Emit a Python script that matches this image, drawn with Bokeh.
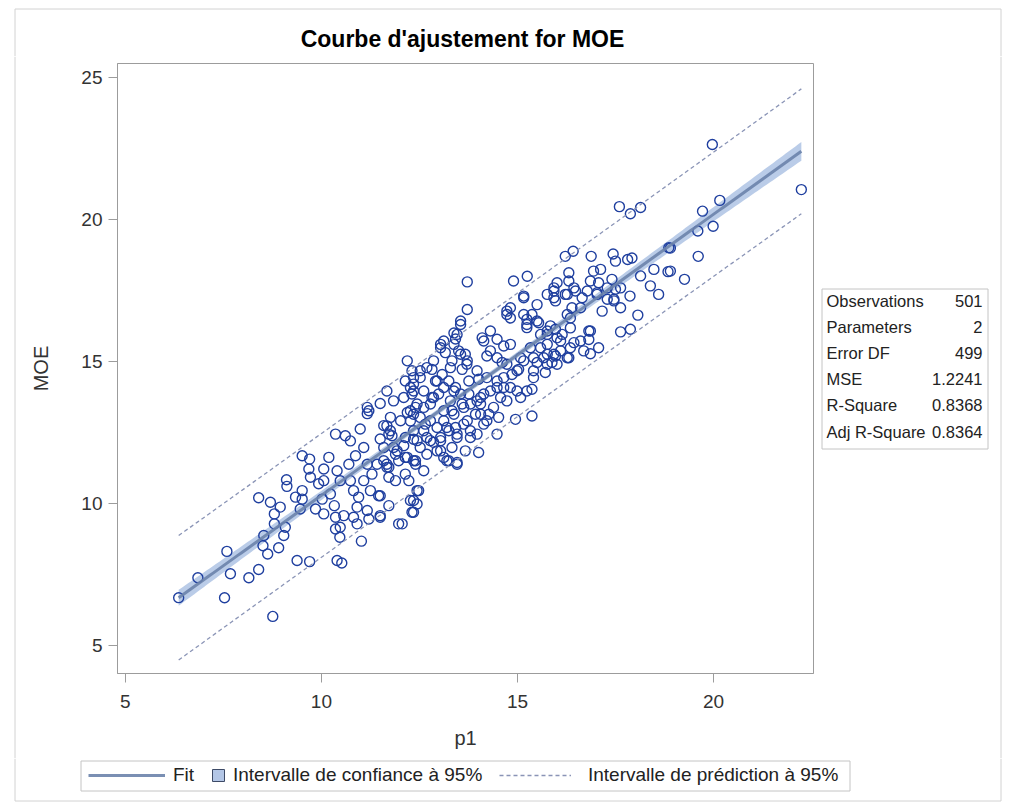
import numpy as np
from bokeh.plotting import figure
from bokeh.models import Range1d, FixedTicker, Legend, LegendItem
from bokeh.layouts import column, row
from bokeh.core.properties import value
from bokeh.embed import file_html
from bokeh.resources import INLINE

# ---- data (p1, MOE) ----
p1 = [
    6.36, 6.85, 7.59, 7.68, 7.53, 8.15, 8.40, 8.76, 8.53, 8.51, 8.63, 8.91, 9.04, 9.08, 8.80, 8.80,
    8.95, 8.70, 8.40, 9.11, 9.12, 9.38, 9.70, 10.40, 10.52, 9.51, 9.70, 9.68, 9.72, 9.51, 9.34, 9.51,
    9.46, 9.85, 10.06, 10.02, 10.06, 9.93, 10.06, 10.36, 10.48, 10.47, 10.36, 10.57, 10.33, 10.23,
    10.36, 10.61, 10.19, 10.40, 10.70, 10.48, 10.74, 10.82, 10.91, 10.82, 10.91, 11.02, 11.17, 11.21,
    11.50, 11.72, 11.17, 11.50, 11.17, 10.99, 10.74, 11.08, 10.87, 11.17, 11.42, 11.59, 11.72, 11.29,
    11.08, 11.25, 11.46, 10.95, 11.76, 11.84, 11.76, 11.84, 11.50, 11.59, 11.89, 11.97,
    12.06, 12.31, 12.35, 12.44, 12.23, 12.40, 12.19, 12.10, 12.35, 12.27, 12.19, 12.40, 12.31, 12.10,
    11.67, 11.80, 11.21, 12.35, 11.93, 11.67, 11.72, 11.50, 11.50,
    13.72, 13.55, 13.38, 13.42, 13.04, 13.16, 13.50, 13.67, 13.72, 13.59, 13.29, 12.86, 12.82, 12.52,
    12.19, 12.35, 12.27, 12.61, 12.95, 13.12, 13.38, 13.76, 14.01, 14.22, 14.10, 14.31, 14.48, 14.65,
    14.82, 14.73, 14.82, 15.16, 15.24, 15.37, 15.24, 15.54, 15.59, 15.93, 15.97, 15.76, 15.97, 15.67,
    15.50, 15.41, 15.08, 15.03, 14.86, 14.61, 14.65, 14.82, 15.08, 15.37, 14.57, 14.48, 14.31, 14.14,
    14.06, 14.27, 14.14, 14.48, 14.95, 15.37, 13.97, 14.01, 13.67, 13.80, 13.46, 13.42, 13.72, 13.93,
    13.12, 13.25, 13.04, 13.12, 13.46, 13.25, 12.95, 12.86, 12.61, 12.40, 12.14, 12.48, 12.27, 12.44,
    12.35, 12.52, 12.27, 12.44, 12.78, 12.86, 12.65, 12.35, 12.14, 12.69, 12.52, 13.59, 13.76, 13.33,
    13.97,
    17.60, 17.88, 18.14, 16.22, 16.42, 16.88, 17.44, 17.50, 17.81, 17.92, 18.86, 18.48, 18.84, 19.26,
    18.39, 18.60, 18.14, 17.87, 18.07, 17.63, 17.88, 17.63, 17.46, 17.50, 17.41, 17.12, 16.94, 16.86,
    17.07, 17.03, 17.16, 17.29, 16.65, 16.48, 16.31, 16.31, 16.01, 15.93, 16.22, 15.97, 16.39, 16.35,
    16.35, 16.82, 16.82, 17.07, 16.86, 16.44, 16.31, 16.10, 16.01, 15.84, 15.76, 15.76, 15.88, 15.71,
    16.14, 15.25, 13.72,
    22.24, 20.16, 19.72, 19.60, 19.99, 19.61, 18.90, 18.90, 19.97,
    11.67, 12.02, 11.72, 11.59, 11.89, 11.67, 11.97, 12.35, 12.61, 12.82, 12.99, 12.91, 12.69, 12.52,
    12.35, 12.14, 12.31, 13.08, 13.25, 13.42, 13.55, 13.29, 13.12, 13.38, 13.63, 12.78, 12.95, 12.61,
    12.44, 12.78, 13.04, 13.20, 13.46, 13.63, 13.80, 13.33, 13.04, 12.69, 12.35, 13.20, 13.46, 12.14,
    14.22, 14.06, 13.80, 14.06, 14.48, 14.22, 13.97, 13.71, 13.55, 13.33, 13.38, 13.46, 13.55, 13.04,
    13.12, 14.14, 14.31, 14.48, 14.73, 14.99, 14.65, 14.99, 14.73, 14.39, 14.52, 15.24, 15.41, 15.16,
    15.41, 15.59, 15.33, 15.93, 15.76, 16.01, 16.27, 16.35, 16.10, 16.61, 16.86, 16.69, 15.76, 15.50,
    15.24, 15.16, 15.50, 15.76, 15.93, 16.27, 16.44, 16.78, 17.03, 17.29, 17.46, 17.63, 16.61, 16.27,
    15.16, 14.82, 14.73, 14.90,
]
moe = [
    6.68, 7.38, 8.31, 7.52, 6.68, 7.38, 7.67, 6.02, 8.87, 8.51, 8.22, 8.44, 8.87, 9.16, 9.28, 9.63,
    9.87, 10.04, 10.20, 10.83, 10.60, 7.99, 7.95, 7.99, 7.90, 11.68, 11.56, 11.21, 10.92, 10.45, 10.22, 10.15,
    9.80, 9.80, 9.63, 10.15, 10.80, 10.69, 11.21, 9.51, 9.16, 8.81, 9.10, 9.57, 9.92, 10.33,
    12.44, 12.38, 11.62, 11.15, 11.38, 10.80, 10.80, 10.45, 9.87, 9.51, 9.28, 8.67, 9.75, 9.45,
    9.57, 9.92, 13.38, 13.52, 13.16, 12.62, 12.20, 11.97, 11.68, 11.38, 11.38, 11.50, 11.27, 11.03,
    10.80, 10.45, 10.27, 10.22, 13.03, 13.61, 12.56, 11.97, 12.27, 12.74, 10.80, 9.28,
    9.28, 9.69, 10.10, 10.45, 10.80, 11.50, 11.62, 12.03, 12.26, 12.90, 13.20, 13.38, 13.85, 13.73,
    12.73, 12.38, 13.26, 14.20, 11.85, 11.38, 10.92, 10.27, 9.51,
    16.83, 16.42, 16.00, 15.79, 15.60, 15.31, 15.37, 15.25, 15.02, 14.72, 14.78, 15.02, 14.72, 14.67,
    15.02, 14.43, 14.08, 13.96, 14.31, 14.08, 13.96, 14.31, 14.37, 15.19, 15.83, 16.07, 15.78, 15.54,
    15.60, 16.77, 16.53, 17.30, 16.48, 16.65, 16.19, 16.36, 15.95, 17.24, 16.13, 15.60, 15.19, 15.13,
    14.96, 14.67, 15.13, 14.72, 14.54, 14.96, 14.43, 14.08, 13.73, 14.02, 13.73, 14.08, 13.96, 13.85,
    13.50, 13.14, 12.79, 12.44, 12.96, 13.08, 12.44, 11.79, 11.85, 12.32, 12.32, 12.67, 12.91, 13.14,
    12.91, 12.56, 12.21, 11.62, 11.38, 11.50, 11.85, 12.15, 11.15, 11.38, 11.62, 10.45, 10.10, 9.98,
    9.69, 13.03, 13.26, 13.50, 13.50, 13.73, 12.79, 12.56, 12.32, 12.32, 11.97, 13.50, 13.85, 13.26,
    13.61,
    20.45, 20.20, 20.42, 18.70, 18.88, 18.70, 18.78, 18.53, 18.59, 18.64, 19.00, 18.24, 18.16, 17.89,
    17.66, 17.36, 18.01, 17.30, 16.63, 16.04, 16.13, 16.89, 17.19, 17.54, 17.89, 18.24, 18.18, 17.83,
    17.77, 17.42, 16.77, 17.19, 17.24, 17.48, 18.12, 17.83, 17.77, 17.48, 17.36, 17.13, 16.89, 16.53,
    16.18, 16.07, 15.77, 15.48, 15.27, 15.66, 15.13, 15.37, 15.83, 16.25, 15.95, 15.25, 14.96, 14.61,
    15.95, 18.00, 17.80,
    21.05, 20.67, 20.29, 19.59, 19.76, 18.70, 18.18, 18.99, 22.64,
    13.96, 12.91, 12.44, 11.97, 11.73, 11.27, 11.50, 13.14, 13.38, 13.73, 13.85, 14.31, 14.78, 14.43,
    13.96, 14.31, 14.67, 14.54, 14.31, 14.08, 13.85, 13.61, 13.26, 13.14, 13.38, 12.91, 12.67, 12.56,
    12.21, 12.21, 12.32, 12.67, 12.44, 12.79, 12.56, 11.97, 11.85, 11.73, 11.50, 11.50, 11.44, 11.03,
    12.91, 13.14, 13.50, 13.73, 14.31, 14.43, 14.67, 14.90, 15.25, 15.02, 15.60, 15.95, 16.30, 15.48,
    15.72, 15.72, 15.37, 15.13, 14.90, 14.67, 14.08, 13.96, 13.61, 13.38, 13.03, 13.96, 14.43, 15.02,
    15.13, 15.48, 15.48, 15.25, 14.90, 14.90, 15.13, 15.48, 15.72, 15.72, 16.07, 15.37, 16.07, 16.42,
    16.30, 16.65, 17.00, 17.36, 17.59, 17.36, 17.59, 17.48, 17.36, 17.59, 17.13, 17.59, 16.89, 16.65,
    17.24, 16.89, 16.65, 17.83,
]

x_ticks = [5, 10, 15, 20]
y_ticks = [5, 10, 15, 20, 25]

fit_intercept = 0.38
fit_slope = 0.99
stat_names = ["Observations", "Parameters", "Error DF", "MSE", "R-Square", "Adj R-Square"]
stat_values = ["501", "2", "499", "1.2241", "0.8368", "0.8364"]
n_obs = 501
mse = 1.2241
t_crit = 1.9647

title_text = "Courbe d'ajustement for MOE"
legend_labels = ["Fit", "Intervalle de confiance à 95%", "Intervalle de prédiction à 95%"]

# ---- page layout (pixels) ----
W, H = 1016, 808
TOP_H, BOT_H = 56, 50
MID_H = H - TOP_H - BOT_H          # 702
LEFT_W, TAB_W = 20, 200
MAIN_W = W - LEFT_W - TAB_W        # 796
X0, X1 = 4.8, 22.55
Y0, Y1 = 4.01, 25.49
FONT = "Liberation Sans"
BORDER = "#d2d2d2"
BOXLINE = "#c4c4c4"
TXT = "#222222"

band_color = "#b3c6e6"
fit_color = "#6b83ab"
pred_color = "#8a94b6"
pt_color = "#1f3f9f"


def deco(x0, x1, y0, y1):
    f = figure(width=x1 - x0, height=y1 - y0, x_range=Range1d(x0, x1), y_range=Range1d(y1, y0),
               output_backend="svg", toolbar_location=None, min_border=0,
               x_axis_location=None, y_axis_location=None, frame_align=False)
    f.outline_line_color = None
    f.grid.visible = False
    f.background_fill_color = "white"
    f.border_fill_color = "white"
    return f


# ---- main plot ----
p = figure(width=MAIN_W, height=MID_H, x_range=Range1d(X0, X1), y_range=Range1d(Y0, Y1),
           output_backend="svg", toolbar_location=None, frame_align=False,
           min_border_left=97, min_border_right=3, min_border_top=63 - TOP_H,
           min_border_bottom=TOP_H + MID_H - 673)
p.background_fill_color = "white"
p.border_fill_color = "white"
p.outline_line_color = "#9c9c9c"
p.grid.visible = False

p.xaxis.ticker = FixedTicker(ticks=x_ticks)
p.yaxis.ticker = FixedTicker(ticks=y_ticks)
p.xaxis.axis_label = "p1"
p.yaxis.axis_label = "MOE"
for ax in (p.xaxis[0], p.yaxis[0]):
    ax.axis_line_color = "#9c9c9c"
    ax.major_tick_line_color = "#9c9c9c"
    ax.major_tick_out = 9
    ax.major_tick_in = 0
    ax.minor_tick_out = 0
    ax.minor_tick_in = 0
    ax.major_label_text_font = FONT
    ax.major_label_text_font_size = "19px"
    ax.major_label_text_color = "#333333"
    ax.axis_label_text_font = FONT
    ax.axis_label_text_font_size = "20px"
    ax.axis_label_text_font_style = "normal"
    ax.axis_label_text_color = "#333333"
p.xaxis.major_label_standoff = 12
p.xaxis.axis_label_standoff = 16
p.yaxis.major_label_standoff = 6
p.yaxis.axis_label_standoff = 26

xa = np.array(p1)
xs = np.linspace(xa.min(), xa.max(), 200)
xbar = xa.mean()
sxx = ((xa - xbar) ** 2).mean() * n_obs
fit = fit_intercept + fit_slope * xs
se_mean = np.sqrt(mse * (1.0 / n_obs + (xs - xbar) ** 2 / sxx))
se_pred = np.sqrt(mse * (1.0 + 1.0 / n_obs + (xs - xbar) ** 2 / sxx))

p.varea(x=xs, y1=fit - t_crit * se_mean, y2=fit + t_crit * se_mean, fill_color=band_color, fill_alpha=0.9)
p.scatter(p1, moe, marker="circle", size=10, fill_color=None, line_color=pt_color, line_width=1.4)
p.line(xs, fit, line_width=3, line_color=fit_color, line_alpha=0.9)
p.line(xs, fit - t_crit * se_pred, line_dash="4 3", line_color=pred_color, line_width=1.3)
p.line(xs, fit + t_crit * se_pred, line_dash="4 3", line_color=pred_color, line_width=1.3)

# ---- top strip: outer border + title ----
top = deco(0, W, 0, TOP_H)
top.segment(x0=[14.5, 14.5, 1000.5], y0=[8.5, 8.5, 8.5], x1=[1000.5, 14.5, 1000.5], y1=[8.5, TOP_H, TOP_H],
            line_color=BORDER, line_width=1)
top.text(x=[462], y=[38], text=[title_text], text_align="center", text_baseline="middle",
         text_font=value(FONT), text_font_size="23px", text_font_style="bold", text_color="#000000")

# ---- left strip: outer border ----
left = deco(0, LEFT_W, TOP_H, TOP_H + MID_H)
left.segment(x0=[14.5], y0=[TOP_H], x1=[14.5], y1=[TOP_H + MID_H], line_color=BORDER, line_width=1)

# ---- right strip: statistics table + outer border ----
tab = deco(W - TAB_W, W, TOP_H, TOP_H + MID_H)
tab.segment(x0=[1000.5], y0=[TOP_H], x1=[1000.5], y1=[TOP_H + MID_H], line_color=BORDER, line_width=1)
tab.quad(left=[821.5], right=[987.5], top=[288.5], bottom=[448.5], fill_color=None, line_color=BOXLINE, line_width=1)
row_y = [300 + 26.2 * i for i in range(len(stat_names))]
tab.text(x=[826] * len(stat_names), y=row_y, text=stat_names, text_align="left", text_baseline="middle",
         text_font=value(FONT), text_font_size="16.5px", text_color=TXT)
tab.text(x=[982] * len(stat_values), y=row_y, text=stat_values, text_align="right", text_baseline="middle",
         text_font=value(FONT), text_font_size="16.5px", text_color=TXT)

# ---- bottom strip: legend + outer border ----
bot = deco(0, W, TOP_H + MID_H, H)
bot.segment(x0=[14.5, 14.5, 1000.5], y0=[800.5, TOP_H + MID_H, TOP_H + MID_H], x1=[1000.5, 14.5, 1000.5],
            y1=[800.5, 800.5, 800.5], line_color=BORDER, line_width=1)
bot.quad(left=[80.5], right=[849.5], top=[760.5], bottom=[790.5], fill_color=None, line_color=BOXLINE, line_width=1)
# legend keys (their own data lie outside the visible strip)
k_fit = bot.line(x=[-100, -90], y=[-100, -100], line_width=3, line_color=fit_color, line_alpha=0.9)
k_conf = bot.scatter(x=[-100], y=[-100], marker="square", fill_color=band_color, line_color="#3d4a66", line_width=1)
k_pred = bot.line(x=[-100, -90], y=[-100, -100], line_dash="4 3", line_color=pred_color, line_width=1.3)


def add_legend(fig, label, rend, vx, gw, standoff):
    lg = Legend(items=[LegendItem(label=label, renderers=[rend])], location=(vx, H - 790),
                glyph_width=gw, glyph_height=30, label_height=30, label_standoff=standoff,
                padding=0, margin=0, spacing=0, border_line_color=None, background_fill_alpha=0,
                label_text_font=FONT, label_text_font_size="19px", label_text_color=TXT)
    fig.add_layout(lg)


add_legend(bot, legend_labels[0], k_fit, 88, 77, 8)
add_legend(bot, legend_labels[1], k_conf, 203, 30, 0)
add_legend(bot, legend_labels[2], k_pred, 499, 72, 17)

layout = column(top, row(left, p, tab), bot)
open("out.html", "w").write(file_html(layout, INLINE))
